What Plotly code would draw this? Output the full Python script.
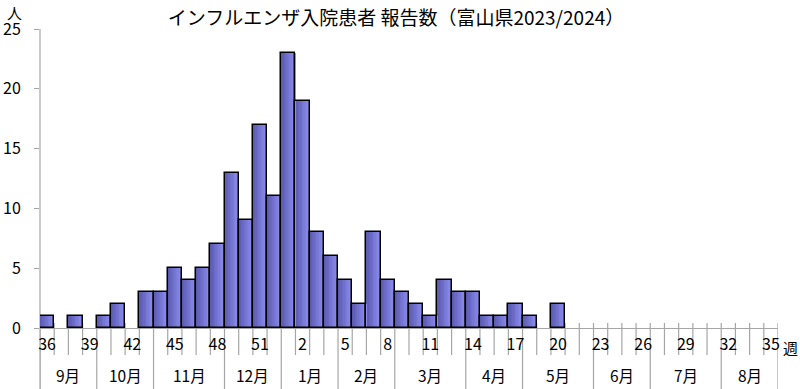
import plotly.graph_objects as go

weeks = list(range(36, 53)) + list(range(1, 36))
cases = [1, 0, 1, 0, 1, 2, 0, 3, 3, 5, 4, 5, 7, 13, 9, 17, 11,
         23, 19, 8, 6, 4, 2, 8, 4, 3, 2, 1, 4, 3, 3, 1, 1, 2, 1, 0, 2,
         0, 0, 0, 0, 0, 0, 0, 0, 0, 0, 0, 0, 0, 0, 0]
months = ["9月", "10月", "11月", "12月", "1月", "2月", "3月", "4月", "5月", "6月", "7月", "8月"]
weeks_per_month = [4, 4, 5, 4, 4, 4, 5, 4, 5, 4, 5, 4]
title = "インフルエンザ入院患者 報告数（富山県2023/2024）"
y_ticks = [0, 5, 10, 15, 20, 25]

FONT = "Noto Sans CJK JP"
n = len(weeks)
idx = list(range(n))

fig = go.Figure()

# gradient fill via slices
N = 10
c0 = (90, 90, 176)
c1 = (140, 140, 240)
for k in range(N):
    t = k / (N - 1)
    col = "rgb(%d,%d,%d)" % tuple(int(c0[j] + (c1[j] - c0[j]) * t) for j in range(3))
    fig.add_trace(go.Bar(x=idx, y=cases, width=1.0 / N + 0.01, offset=-0.5 + k / N,
                         marker=dict(color=col, line=dict(width=0)),
                         hoverinfo="skip", showlegend=False))
# outline
fig.add_trace(go.Bar(x=idx, y=[c if c > 0 else None for c in cases], width=1.0,
                     marker=dict(color="rgba(0,0,0,0)", line=dict(color="black", width=1.5)),
                     showlegend=False))

plot_w = 738.0
plot_h = 299.0
short = -27 / plot_h
long_ = -61 / plot_h
above = 5 / plot_h
bounds = [0]
for w in weeks_per_month:
    bounds.append(bounds[-1] + w)
shapes = []
for b in range(n + 1):
    y1 = long_ if b in bounds else short
    shapes.append(dict(type="line", xref="x", yref="paper", x0=b - 0.5, x1=b - 0.5,
                       y0=above if b > 0 else 0, y1=y1, line=dict(color="#a6a6a6", width=1.2), layer="below"))
shapes.append(dict(type="line", xref="paper", yref="paper", x0=0, x1=0, y0=1, y1=long_,
                   line=dict(color="#a6a6a6", width=1.2), layer="below"))

annotations = []
for i, m in enumerate(months):
    cx = (bounds[i] + bounds[i + 1]) / 2 - 0.5
    annotations.append(dict(x=cx, y=-(375 - 328) / plot_h, xref="x", yref="paper", text=m,
                            showarrow=False, xanchor="center", yanchor="middle",
                            font=dict(size=15.5, color="black", family=FONT)))
annotations.append(dict(x=(14 - 40) / plot_w, y=(328 - 12) / plot_h, xref="paper", yref="paper",
                        text="人", showarrow=False, xanchor="center", yanchor="middle",
                        font=dict(size=15, color="black", family=FONT)))
annotations.append(dict(x=(790 - 40) / plot_w, y=-(347 - 328) / plot_h, xref="paper", yref="paper",
                        text="週", showarrow=False, xanchor="center", yanchor="middle",
                        font=dict(size=15, color="black", family=FONT)))

fig.update_layout(
    width=800, height=389,
    margin=dict(l=40, r=22, t=29, b=61, autoexpand=False),
    paper_bgcolor="white", plot_bgcolor="white",
    barmode="overlay", bargap=0,
    title=dict(text=title, x=396 / 800, xanchor="center", y=1 - 18 / 389, yanchor="middle",
               font=dict(size=19, color="black", family=FONT)),
    font=dict(family=FONT, color="black", size=15),
    xaxis=dict(range=[-0.5, n - 0.5], tickmode="array",
               tickvals=[i for i in idx if i % 3 == 0],
               ticktext=[str(weeks[i]) for i in idx if i % 3 == 0],
               ticks="", showgrid=False, zeroline=False, showline=True, linecolor="#a6a6a6",
               linewidth=1.2, automargin=False, ticklabelstandoff=2,
               tickfont=dict(size=16, color="black", family=FONT), fixedrange=True),
    yaxis=dict(range=[0, 25], tickvals=y_ticks, ticks="outside", ticklen=5, tickcolor="#a6a6a6",
               showgrid=False, zeroline=False, showline=False, automargin=False, fixedrange=True,
               tickfont=dict(size=16, color="black", family=FONT), ticklabelstandoff=10),
    shapes=shapes,
    annotations=annotations,
)

fig.write_html("out.html", config={"displayModeBar": False},
               post_script="document.body.style.margin='0';document.body.style.overflow='hidden';")
